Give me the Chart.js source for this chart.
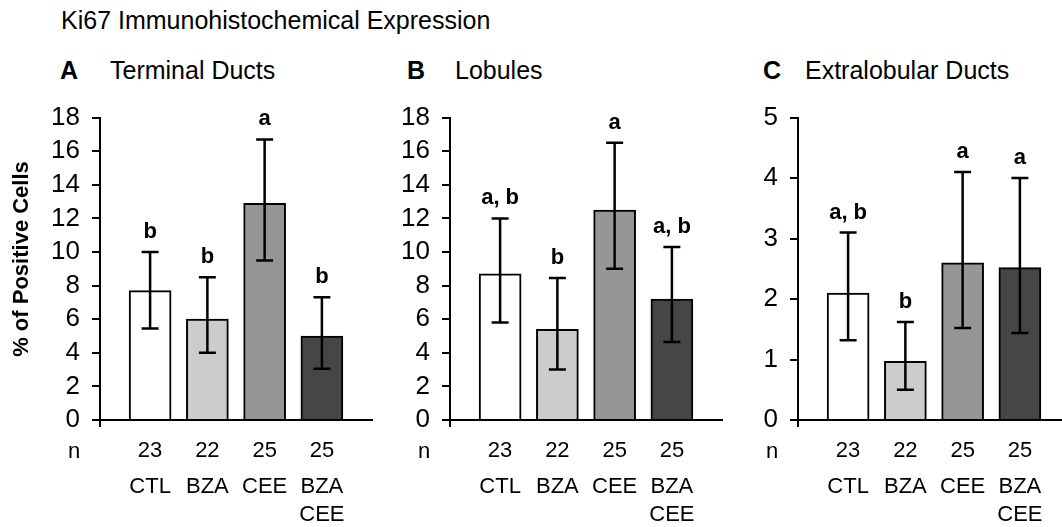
<!DOCTYPE html>
<html>
<head>
<meta charset="utf-8">
<script src="https://cdn.jsdelivr.net/npm/chart.js@4.4.1/dist/chart.umd.min.js"></script>
<style>
  html, body { margin: 0; padding: 0; background: #fff; }
  body { width: 1062px; height: 527px; overflow: hidden; position: relative; font-family: "Liberation Sans", Arial, sans-serif; color: #000; }
  .txt { position: absolute; font-size: 25px; line-height: 24px; white-space: nowrap; }
  .bold { font-weight: bold; }
  .panel { position: absolute; top: 90px; width: 382px; height: 437px; }
</style>
</head>
<body>
<div class="txt" style="left:61px; top:8px;">Ki67 Immunohistochemical Expression</div>
<div class="txt bold" style="left:60px; top:58px;">A</div>
<div class="txt" style="left:110px; top:58px;">Terminal Ducts</div>
<div class="txt bold" style="left:407px; top:58px;">B</div>
<div class="txt" style="left:455px; top:58px;">Lobules</div>
<div class="txt bold" style="left:763px; top:58px;">C</div>
<div class="txt" style="left:805px; top:58px;">Extralobular Ducts</div>

<div class="panel" style="left:0px;"><canvas id="ductsChart"></canvas></div>
<div class="panel" style="left:350px;"><canvas id="lobulesChart"></canvas></div>
<div class="panel" style="left:698px;"><canvas id="extraChart"></canvas></div>

<script>
const groups = ["CTL", "BZA", "CEE", ["BZA", "CEE"]];
const groupCounts = [23, 22, 25, 25];

const ductMeans = [7.7, 6.0, 12.9, 5.0];
const ductUpper = [10.0, 8.5, 16.7, 7.3];
const ductLower = [5.45, 4.0, 9.5, 3.05];
const ductLetters = ["b", "b", "a", "b"];

const lobuleMeans = [8.7, 5.4, 12.5, 7.2];
const lobuleUpper = [12.0, 8.45, 16.5, 10.3];
const lobuleLower = [5.8, 3.0, 9.0, 4.65];
const lobuleLetters = ["a, b", "b", "a", "a, b"];

const extraMeans = [2.1, 0.97, 2.6, 2.52];
const extraUpper = [3.1, 1.62, 4.1, 4.0];
const extraLower = [1.32, 0.5, 1.52, 1.44];
const extraLetters = ["a, b", "b", "a", "a"];

const FONT = "'Liberation Sans', Arial, sans-serif";
const barFills = ["#ffffff", "#cccccc", "#969696", "#464646"];

function panelMarks(upper, lower, letters, withTitle) {
  return {
    id: "panelMarks",
    afterDatasetsDraw(chart) {
      const ctx = chart.ctx;
      const y = chart.scales.y;
      const bars = chart.getDatasetMeta(0).data;
      ctx.save();
      ctx.strokeStyle = "#000";
      ctx.lineWidth = 2.5;
      bars.forEach((bar, i) => {
        const top = y.getPixelForValue(upper[i]);
        const bottom = y.getPixelForValue(lower[i]);
        ctx.beginPath();
        ctx.moveTo(bar.x, top);
        ctx.lineTo(bar.x, bottom);
        ctx.moveTo(bar.x - 8.5, top);
        ctx.lineTo(bar.x + 8.5, top);
        ctx.moveTo(bar.x - 8.5, bottom);
        ctx.lineTo(bar.x + 8.5, bottom);
        ctx.stroke();

        ctx.fillStyle = "#000";
        ctx.font = "bold 22px " + FONT;
        ctx.textAlign = "center";
        ctx.textBaseline = "alphabetic";
        ctx.fillText(letters[i], bar.x, top - 14);
      });
      ctx.restore();
    },
    afterDraw(chart) {
      const ctx = chart.ctx;
      const area = chart.chartArea;
      const bars = chart.getDatasetMeta(0).data;
      ctx.save();
      // small stub of the value axis below the origin
      ctx.strokeStyle = "#000";
      ctx.lineWidth = 2;
      ctx.beginPath();
      ctx.moveTo(area.left, area.bottom);
      ctx.lineTo(area.left, area.bottom + 7);
      ctx.stroke();

      ctx.fillStyle = "#000";
      ctx.textAlign = "center";
      ctx.textBaseline = "middle";
      ctx.font = "22px " + FONT;
      ctx.fillText("n", area.left - 26, area.bottom + 32);
      bars.forEach((bar, i) => {
        ctx.fillText(String(groupCounts[i]), bar.x, area.bottom + 31);
        const lines = [].concat(groups[i]);
        lines.forEach((line, k) => {
          ctx.fillText(line, bar.x, area.bottom + 67 + k * 28);
        });
      });
      if (withTitle) {
        ctx.translate(22, 169);
        ctx.rotate(-Math.PI / 2);
        ctx.font = "bold 22px " + FONT;
        ctx.fillText("% of Positive Cells", 0, 0);
      }
      ctx.restore();
    }
  };
}

function makePanel(canvasId, means, upper, lower, letters, yMax, yStep, withTitle) {
  return new Chart(document.getElementById(canvasId), {
    type: "bar",
    data: {
      datasets: [{
        data: means.map((v, i) => ({ x: i + 1, y: v })),
        backgroundColor: barFills,
        borderColor: "#000",
        borderWidth: 2,
        barThickness: 42
      }]
    },
    options: {
      responsive: true,
      maintainAspectRatio: false,
      animation: false,
      layout: { padding: { top: 24, right: 10, left: 0, bottom: 0 } },
      plugins: {
        legend: { display: false },
        tooltip: { enabled: false }
      },
      scales: {
        x: {
          type: "linear",
          offset: false,
          min: 0.125,
          max: 4.875,
          ticks: { display: false },
          grid: { display: false, offset: false },
          border: { display: true, color: "#000", width: 2 },
          afterFit: (scale) => { scale.height = 107; }
        },
        y: {
          min: 0,
          max: yMax,
          ticks: {
            stepSize: yStep,
            autoSkip: false,
            color: "#000",
            padding: 12,
            font: { family: FONT, size: 26 }
          },
          grid: {
            drawOnChartArea: false,
            drawTicks: true,
            tickLength: 8,
            color: "#000",
            lineWidth: 2
          },
          border: { display: true, color: "#000", width: 2 },
          afterFit: (scale) => { scale.width = 100; }
        }
      }
    },
    plugins: [panelMarks(upper, lower, letters, withTitle)]
  });
}

makePanel("ductsChart", ductMeans, ductUpper, ductLower, ductLetters, 18, 2, true);
makePanel("lobulesChart", lobuleMeans, lobuleUpper, lobuleLower, lobuleLetters, 18, 2, false);
makePanel("extraChart", extraMeans, extraUpper, extraLower, extraLetters, 5, 1, false);
</script>
</body>
</html>
